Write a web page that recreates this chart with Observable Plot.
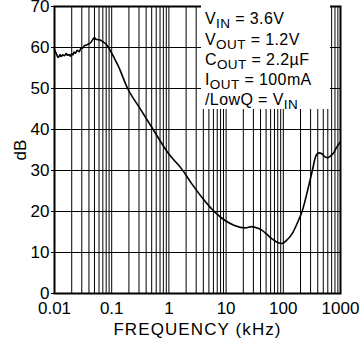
<!DOCTYPE html>
<html><head><meta charset="utf-8">
<script src="https://cdn.jsdelivr.net/npm/d3@7"></script>
<script src="https://cdn.jsdelivr.net/npm/@observablehq/plot@0.6"></script>
<style>
body{margin:0;background:#fff;font-family:"Liberation Sans",Arial,sans-serif;}
#wrap{position:relative;width:360px;height:345px;overflow:hidden;}
#legend{position:absolute;left:201px;top:3px;width:129px;height:106px;background:#fff;font-size:16px;line-height:20.3px;color:#000;padding:6.3px 0 0 4px;box-sizing:border-box;letter-spacing:0.4px;white-space:nowrap;z-index:2;}
#legend sub{font-size:13.5px;vertical-align:-4px;line-height:0;}
</style></head><body>
<div id="wrap"><div id="legend"></div></div>
<script>
// frequency (kHz) and ripple rejection (dB)
const freq = [0.01,0.0105,0.011,0.0115,0.012,0.0125,0.013,0.014,0.015,0.016,0.017,0.018,0.019,0.02,0.021,0.022,0.023,0.025,0.027,0.029,0.031,0.033,0.036,0.04,0.043,0.046,0.05,0.053,0.058,0.065,0.072,0.08,0.09,0.1,0.115,0.13,0.19,0.3,0.53,1,1.67,2.5,3.76,6.43,9.6,14,21.7,28,36,42.6,52,63.8,83.7,95,115,143,180,215,270,322,370,420,470,530,590,650,750,850,1000];
const psrr = [59.5,58.8,58.2,57.6,57.8,58.3,57.8,58.2,58.0,58.5,58.1,58.3,57.9,58.5,58.2,58.9,58.6,59.3,59.0,59.8,59.9,60.4,60.6,60.9,61.2,61.8,62.4,62.0,61.9,61.7,61.3,60.8,59.8,58.6,57.0,55.5,50,45.5,40,34,30.4,26.8,23.5,19.8,17.8,16.6,16.0,16.3,15.9,15.4,14.4,13.3,12.3,12.2,13.0,14.6,17.5,20.2,25.5,30,33.5,34.3,34.1,33.4,33.1,33.4,34.2,35.6,37];
const xTicks = [0.01,0.1,1,10,100,1000];
const xTickLabels = ["0.01","0.1","1","10","100","1000"];
const yTicks = [0,10,20,30,40,50,60,70];
const decades = [0.01,0.1,1,10,100];
const multipliers = [1,2,3,4,5,6,7,8,9];
const legendMain = ["V","V","C","I","/LowQ = V"];
const legendSub = ["IN","OUT","OUT","OUT","IN"];
const legendRest = [" = 3.6V"," = 1.2V"," = 2.2µF"," = 100mA",""];

const gridX = [];
decades.forEach(d => multipliers.forEach(m => gridX.push(d*m)));
gridX.push(1000);

const data = freq.map((f,i)=>({f, db: psrr[i]}));

const chart = Plot.plot({
  width:360, height:345,
  marginTop:6, marginBottom:52, marginLeft:54, marginRight:20,
  style:{fontFamily:'"Liberation Sans", Arial, sans-serif', fontSize:"17px", color:"#000", background:"#fff", overflow:"visible"},
  x:{type:"log", domain:[0.01,1000]},
  y:{domain:[0,70]},
  marks:[
    Plot.ruleX(gridX,{stroke:"#000", strokeWidth:1}),
    Plot.ruleY(yTicks,{stroke:"#000", strokeWidth:1}),
    Plot.line(data,{x:"f", y:"db", stroke:"#000", strokeWidth:1.6, curve:"monotone-x"}),
    Plot.frame({stroke:"#000", strokeWidth:2}),
    Plot.axisX(xTicks,{tickSize:0, tickPadding:8, tickFormat:d=>xTickLabels[xTicks.indexOf(d)], label:"FREQUENCY (kHz)", labelAnchor:"center", labelOffset:41, labelArrow:"none"}),
    Plot.axisY(yTicks,{tickSize:3, tickPadding:2, label:"dB", labelAnchor:"center", labelOffset:41, labelArrow:"none"})
  ]
});
const wrap = document.getElementById("wrap");
wrap.insertBefore(chart, wrap.firstChild);
d3.select(chart).selectAll("text").filter(function(){return this.textContent==="FREQUENCY (kHz)";}).style("letter-spacing","1.1px");

const legend = document.getElementById("legend");
legendMain.forEach((m,i)=>{
  const div = document.createElement("div");
  div.append(m);
  const s = document.createElement("sub"); s.textContent = legendSub[i]; div.append(s);
  div.append(legendRest[i]);
  legend.append(div);
});
</script>
</body></html>
